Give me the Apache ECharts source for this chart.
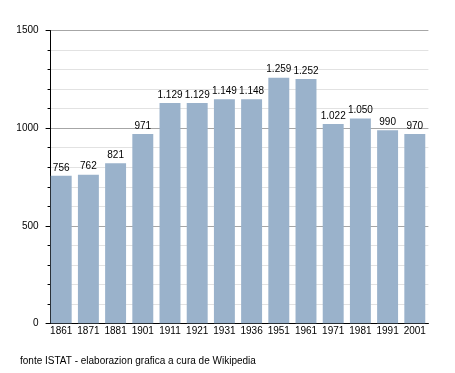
<!DOCTYPE html>
<html>
<head>
<meta charset="utf-8">
<script src="https://cdn.jsdelivr.net/npm/echarts@6/dist/echarts.min.js"></script>
<style>
  html, body { margin: 0; padding: 0; background: #fff; }
  #chart { width: 455px; height: 373px; }
</style>
</head>
<body>
<div id="chart"></div>
<script>
const categories = ['1861', '1871', '1881', '1901', '1911', '1921', '1931', '1936', '1951', '1961', '1971', '1981', '1991', '2001'];
const population = [756, 762, 821, 971, 1129, 1129, 1149, 1148, 1259, 1252, 1022, 1050, 990, 970];
const yMin = 0;
const yMax = 1500;
const yStep = 500;
const footer = 'fonte ISTAT - elaborazion grafica a cura de Wikipedia';

const FONT = '"Liberation Sans", Arial, sans-serif';

function fmtThousands(v) {
  return String(v).replace(/\B(?=(\d{3})+(?!\d))/g, '.');
}

const chart = echarts.init(document.getElementById('chart'), null, { renderer: 'canvas' });
chart.setOption({
  animation: false,
  backgroundColor: '#ffffff',
  textStyle: { fontFamily: FONT },
  title: {
    text: footer,
    left: 20,
    top: 356,
    padding: 0,
    textStyle: { fontFamily: FONT, fontSize: 10, fontWeight: 'normal', color: '#000' }
  },
  grid: { left: 47.6, right: 26.6, top: 30.7, bottom: 49.7, containLabel: false },
  xAxis: {
    type: 'category',
    data: categories,
    axisLine: { show: true, lineStyle: { color: '#000', width: 1 } },
    axisTick: { show: false },
    axisLabel: { interval: 0, margin: 3, fontSize: 10, color: '#000', fontFamily: FONT },
    splitLine: { show: false }
  },
  yAxis: {
    type: 'value',
    min: yMin,
    max: yMax,
    interval: yStep,
    offset: -3,
    axisLine: { show: true, lineStyle: { color: '#000', width: 1 } },
    axisTick: { show: true, inside: false, length: 5, lineStyle: { color: '#000' } },
    minorTick: { show: true, splitNumber: 5, length: 3, lineStyle: { color: '#000' } },
    axisLabel: { margin: 12, fontSize: 10, color: '#000', fontFamily: FONT, formatter: v => String(v) },
    splitLine: { show: true, lineStyle: { color: '#a6a6a6', width: 1 } },
    minorSplitLine: { show: true, lineStyle: { color: '#e2e2e2', width: 1 } }
  },
  series: [{
    type: 'bar',
    data: population,
    barCategoryGap: '23%',
    itemStyle: { color: '#9ab2cb' },
    label: {
      show: true,
      position: 'top',
      distance: 3,
      fontSize: 10,
      color: '#000',
      fontFamily: FONT,
      formatter: p => fmtThousands(p.value)
    }
  }]
});
</script>
</body>
</html>
